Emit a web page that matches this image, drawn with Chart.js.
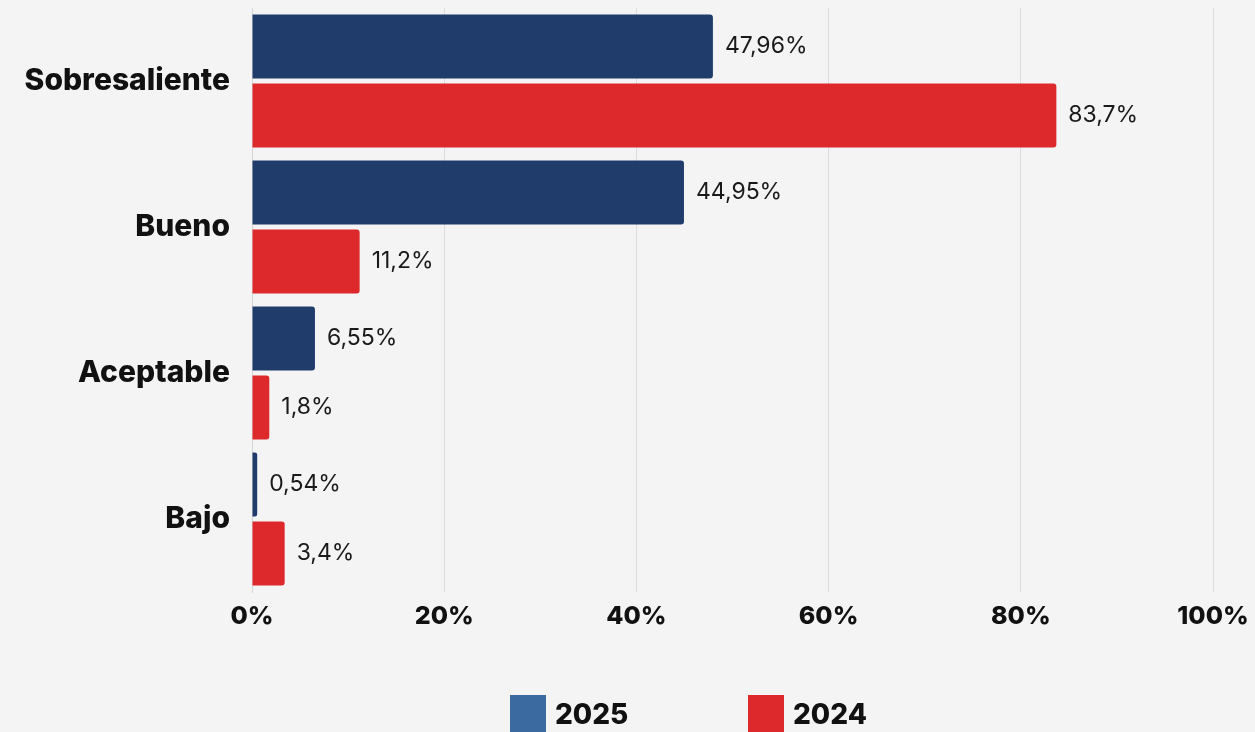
<!DOCTYPE html>
<html>
<head>
<meta charset="utf-8">
<script src="https://cdn.jsdelivr.net/npm/chart.js@4.4.0/dist/chart.umd.min.js"></script>
<style>
  html, body { margin: 0; padding: 0; background: #f4f4f4; }
  #wrap { width: 1255px; height: 732px; position: relative; }
</style>
</head>
<body>
<div id="wrap"><canvas id="chart"></canvas></div>
<script>
const categories = ["Sobresaliente", "Bueno", "Aceptable", "Bajo"];
const values2025 = [47.96, 44.95, 6.55, 0.54];
const values2024 = [83.7, 11.2, 1.8, 3.4];
const xTicks = [0, 20, 40, 60, 80, 100];

const NAVY = "#1f3c6a";
const RED = "#de292c";
const LEGEND_BLUE = "#3a6a9f";
const FONT = "Inter, 'Open Sans', sans-serif";

// value labels after each bar, "47,96%" style
const valueLabels = {
  id: "valueLabels",
  afterDatasetsDraw(chart) {
    const ctx = chart.ctx;
    ctx.save();
    ctx.font = "400 23px " + FONT;
    ctx.fillStyle = "#1a1a1a";
    ctx.textBaseline = "middle";
    ctx.textAlign = "left";
    chart.data.datasets.forEach((ds, i) => {
      chart.getDatasetMeta(i).data.forEach((bar, j) => {
        const txt = String(ds.data[j]).replace(".", ",") + "%";
        ctx.fillText(txt, bar.x + 12, bar.y);
      });
    });
    ctx.restore();
  }
};

// legend drawn by hand: square + bold year, spaced wide
const bottomLegend = {
  id: "bottomLegend",
  afterDraw(chart) {
    const ctx = chart.ctx;
    const items = [
      { label: chart.data.datasets[0].label, color: LEGEND_BLUE, x: 510 },
      { label: chart.data.datasets[1].label, color: RED, x: 748 }
    ];
    ctx.save();
    ctx.font = "800 28px " + FONT;
    ctx.textBaseline = "middle";
    items.forEach(it => {
      ctx.fillStyle = it.color;
      ctx.fillRect(it.x, 695, 36, 40);
      ctx.fillStyle = "#111";
      ctx.fillText(it.label, it.x + 45, 716);
    });
    ctx.restore();
  }
};

new Chart(document.getElementById("chart"), {
  type: "bar",
  data: {
    labels: categories,
    datasets: [
      { label: "2025", data: values2025, backgroundColor: NAVY, borderRadius: 3, borderSkipped: "start" },
      { label: "2024", data: values2024, backgroundColor: RED, borderRadius: 3, borderSkipped: "start" }
    ]
  },
  options: {
    indexAxis: "y",
    responsive: true,
    maintainAspectRatio: false,
    animation: false,
    categoryPercentage: 0.945,
    barPercentage: 0.9275,
    layout: { padding: { top: 8, right: 42, bottom: 100, left: 0 } },
    plugins: {
      legend: { display: false },
      tooltip: { enabled: false }
    },
    scales: {
      x: {
        min: 0,
        max: 100,
        afterFit: s => { s.height = 40; s.paddingLeft = 0; s.paddingRight = 0; },
        afterBuildTicks: s => { s.ticks = xTicks.map(v => ({ value: v })); },
        grid: { color: "#dcdcdc", lineWidth: 1, drawTicks: false },
        border: { display: false },
        ticks: {
          padding: 9,
          color: "#111",
          font: { family: FONT, size: 25, weight: "800" },
          callback: v => v + "%"
        }
      },
      y: {
        afterFit: s => { s.width = 252; s.paddingTop = 0; s.paddingBottom = 0; },
        grid: { display: false, drawTicks: false },
        border: { display: true, color: "#d6d6d6" },
        ticks: {
          padding: 22,
          color: "#111",
          font: { family: FONT, size: 30, weight: "800" }
        }
      }
    }
  },
  plugins: [valueLabels, bottomLegend]
});
</script>
</body>
</html>
